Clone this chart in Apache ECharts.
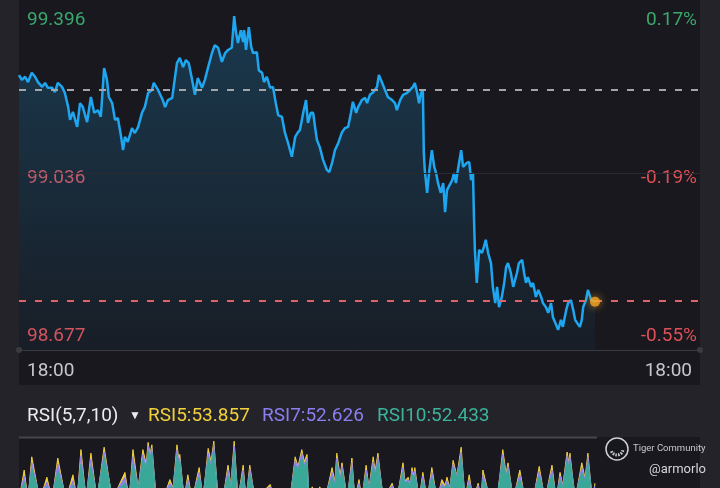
<!DOCTYPE html>
<html><head><meta charset="utf-8">
<script src="https://cdn.jsdelivr.net/npm/echarts@6/dist/echarts.min.js"></script>
<style>html,body{margin:0;padding:0;background:#222228;}#c{width:720px;height:488px;}</style>
</head><body><div id="c"></div>
<script>
// ---- data ----
const timeLabels = ['18:00', '18:00'];
const priceTicks = [98.677, 99.036, 99.396];
const prevClose = 99.227;
const lastPrice = 98.748;
// minutes after 18:00
const priceTimes = [0,6,13,19,27,34,40,49,55,61,70,76,82,91,97,104,108,114,123,129,135,144,152,159,167,173,180,186,190,197,203,209,216,220,224,230,239,245,252,260,266,273,281,285,294,298,304,309,315,324,330,334,340,347,353,359,366,372,378,387,393,400,408,414,421,429,436,442,450,455,459,463,469,474,476,480,486,491,495,503,507,514,518,524,531,537,543,548,556,562,569,577,584,590,594,601,607,611,617,622,626,630,636,643,651,656,662,668,675,683,689,696,702,706,713,717,725,732,736,742,749,757,761,768,774,780,789,795,799,806,812,820,827,833,837,842,846,850,854,856,858,863,867,873,878,882,886,892,897,901,905,909,916,920,924,928,935,939,943,947,952,956,960,962,964,968,973,979,983,987,992,998,1002,1007,1011,1015,1021,1026,1030,1034,1040,1045,1053,1057,1064,1068,1072,1076,1083,1087,1093,1098,1104,1108,1114,1119,1125,1129,1136,1140,1146,1150,1157,1161,1167,1172,1176,1180,1186,1190,1193,1199,1203,1210,1218];
const prices = [99.264,99.253,99.260,99.248,99.269,99.260,99.248,99.237,99.246,99.235,99.235,99.225,99.246,99.237,99.223,99.191,99.162,99.180,99.146,99.200,99.191,99.157,99.214,99.178,99.184,99.169,99.280,99.253,99.214,99.200,99.162,99.166,99.123,99.093,99.123,99.112,99.143,99.132,99.146,99.178,99.191,99.223,99.230,99.246,99.230,99.230,99.207,99.191,99.207,99.212,99.260,99.291,99.303,99.282,99.298,99.291,99.253,99.219,99.257,99.235,99.253,99.282,99.314,99.332,99.326,99.294,99.314,99.321,99.326,99.398,99.360,99.337,99.366,99.339,99.366,99.321,99.373,99.328,99.314,99.316,99.275,99.269,99.248,99.260,99.235,99.237,99.200,99.173,99.169,99.134,99.109,99.078,99.123,99.134,99.139,99.178,99.207,99.155,99.178,99.178,99.146,99.116,99.100,99.071,99.048,99.043,99.064,99.093,99.109,99.134,99.143,99.146,99.178,99.203,99.178,99.191,99.207,99.212,99.200,99.219,99.225,99.237,99.264,99.246,99.230,99.214,99.207,99.200,99.184,99.207,99.219,99.223,99.230,99.237,99.246,99.223,99.200,99.223,99.230,99.087,99.048,98.996,99.041,99.093,99.055,99.041,99.018,98.996,99.018,98.952,99.002,98.998,99.025,99.041,99.018,99.048,99.093,99.055,99.059,99.064,99.066,99.025,99.041,98.941,98.866,98.791,98.866,98.859,98.873,98.889,98.859,98.836,98.782,98.745,98.782,98.736,98.759,98.791,98.827,98.836,98.814,98.782,98.814,98.836,98.843,98.814,98.791,98.804,98.782,98.791,98.759,98.775,98.759,98.745,98.736,98.723,98.745,98.713,98.695,98.684,98.707,98.691,98.729,98.745,98.752,98.729,98.707,98.700,98.691,98.707,98.736,98.752,98.775,98.752,98.748];

const rsiTimes = [0,11,19,27,44,59,70,82,99,114,123,131,142,152,165,180,197,224,233,241,252,262,269,273,277,281,290,304,319,326,334,338,340,349,357,366,381,389,400,406,412,421,431,442,448,455,463,474,480,488,499,531,541,573,584,590,598,603,609,613,620,628,636,647,662,668,672,679,683,694,704,710,719,725,734,740,749,753,759,770,789,799,812,816,823,827,831,835,837,846,854,863,873,884,894,901,905,911,918,926,935,943,952,960,971,977,981,996,1011,1023,1030,1034,1045,1059,1070,1087,1100,1112,1127,1136,1144,1150,1159,1163,1165,1176,1190,1197,1203,1212,1218];
const rsi5 = [50,75,50,86,50,69,50,85,50,71,50,92,50,89,50,94,50,73,50,92,60,92,80,98,88,96,50,50,67,60,96,84,88,50,71,50,77,50,93,82,99,50,50,79,62,99,50,79,50,79,50,63,50,50,86,78,92,82,88,50,61,50,61,50,77,65,89,70,81,50,85,50,67,50,79,60,86,74,89,50,64,50,81,66,69,62,77,70,77,50,73,50,77,50,67,62,69,60,83,70,94,50,71,50,64,50,75,50,50,92,72,81,50,75,50,50,78,50,79,50,73,62,90,80,89,50,81,68,89,50,64];
const rsi7 = [52,70,52,81,52,65,52,80,52,66,52,87,52,84,52,90,52,69,52,86,60,88,78,95,88,93,52,52,64,60,92,83,85,52,67,52,73,52,89,80,96,52,52,75,62,95,52,75,52,76,52,61,52,52,83,77,89,80,85,52,59,52,59,52,73,64,85,68,78,52,81,52,64,52,75,60,82,72,86,52,62,52,77,65,67,62,74,69,74,52,70,52,73,52,64,61,66,60,80,70,90,52,67,52,62,52,71,52,52,88,71,78,52,71,52,52,74,52,75,52,70,62,87,79,86,52,77,67,86,52,62];
const rsi10 = [54,65,54,76,54,61,54,74,54,62,54,80,54,78,54,86,54,64,54,80,60,84,76,91,86,90,54,54,61,60,88,80,82,54,63,54,69,54,85,78,92,54,54,70,62,90,54,71,54,72,54,59,54,54,79,75,85,78,82,54,57,54,57,54,69,62,81,66,74,54,76,54,61,54,71,60,78,70,82,54,60,54,73,64,65,61,71,68,71,54,66,54,69,54,61,60,63,60,77,69,86,54,63,54,60,54,67,54,54,84,70,75,54,67,54,54,70,54,71,54,66,61,83,77,82,54,73,66,82,54,60];

const rsiTitle = 'RSI(5,7,10)';
const rsiValues = ['53.857', '52.626', '52.433'];

// ---- styles ----
const GREEN = '#3aa76c', RED = '#de5058', FONT = 'Roboto';
const panel = '#18181e';

const chart = echarts.init(document.getElementById('c'), null, {renderer: 'canvas'});
const priceData = priceTimes.map((t, i) => [t, prices[i]]);
const last = priceData[priceData.length - 1];
const yMin = 98.6383, yMax = 99.4347;

const priceRich = {
  g: {color: GREEN, fontSize: 19, fontFamily: FONT, padding: [6, 0, 0, 0]},
  r: {color: RED, fontSize: 19, fontFamily: FONT, padding: [6, 0, 0, 0]}
};

chart.setOption({
  backgroundColor: '#232329',
  animation: false,
  graphic: [
    {type: 'rect', z: -10, shape: {x: 19, y: 0, width: 681, height: 385}, style: {fill: panel}},
    {type: 'rect', z: -10, shape: {x: 19, y: 437, width: 681, height: 51}, style: {fill: panel}},
    {type: 'line', z: 50, shape: {x1: 19, y1: 437.5, x2: 597, y2: 437.5}, style: {stroke: '#45454c', lineWidth: 2}},
    {type: 'text', z: 50, style: {x: 27, y: 416, text: rsiTitle, fill: '#ececf0', font: '19px ' + FONT, verticalAlign: 'middle'}},
    {type: 'text', z: 50, style: {x: 129, y: 416, text: '▼', fill: '#ececf0', font: '12px ' + FONT, verticalAlign: 'middle'}},
    {type: 'text', z: 50, style: {x: 148, y: 416, text: 'RSI5:' + rsiValues[0], fill: '#f2d13a', font: '19px ' + FONT, verticalAlign: 'middle'}},
    {type: 'text', z: 50, style: {x: 262, y: 416, text: 'RSI7:' + rsiValues[1], fill: '#8c7ef0', font: '19px ' + FONT, verticalAlign: 'middle'}},
    {type: 'text', z: 50, style: {x: 377, y: 416, text: 'RSI10:' + rsiValues[2], fill: '#3cb39b', font: '19px ' + FONT, verticalAlign: 'middle'}},
    {type: 'circle', z: 50, shape: {cx: 617, cy: 449, r: 11}, style: {fill: 'rgba(24,24,30,0.6)', stroke: '#cfcfd3', lineWidth: 1.5}},
    {type: 'arc', z: 51, shape: {cx: 617, cy: 449, r: 6, startAngle: 0.2, endAngle: 2.9}, style: {fill: 'none', stroke: '#cfcfd3', lineWidth: 3, lineDash: [1.5, 1.2]}},
    {type: 'text', z: 50, style: {x: 633, y: 449, text: 'Tiger Community', fill: '#c9c9cd', font: '9.5px ' + FONT, verticalAlign: 'middle'}},
    {type: 'text', z: 50, style: {x: 706, y: 470, text: '@armorlo', fill: '#d4d4d8', font: '13px ' + FONT, verticalAlign: 'middle', align: 'right'}}
  ],
  grid: [
    {left: 19, right: 20, top: 0, height: 350},
    {left: 19, right: 20, top: 440, height: 48}
  ],
  xAxis: [
    {gridIndex: 0, type: 'value', min: 0, max: 1440,
     axisLine: {show: true, lineStyle: {color: '#3a3a41', width: 1}, symbol: ['circle', 'circle'], symbolSize: [6, 6]},
     axisTick: {show: false}, splitLine: {show: false},
     axisLabel: {customValues: [0, 1440], formatter: v => (v === 0 ? timeLabels[0] : timeLabels[1]),
       color: '#c6c6cb', fontSize: 19, fontFamily: FONT, margin: 12,
       alignMinLabel: 'left', alignMaxLabel: 'right', padding: [0, 8, 0, 8]}},
    {gridIndex: 1, type: 'value', min: 0, max: 1440, show: false}
  ],
  yAxis: [
    {gridIndex: 0, type: 'value', min: yMin, max: yMax, position: 'left',
     axisLine: {show: false}, axisTick: {show: false}, splitLine: {show: false},
     axisLabel: {inside: true, customValues: priceTicks, margin: 8, rich: priceRich,
       formatter: v => '{' + (v > prevClose ? 'g' : 'r') + '|' + v.toFixed(3) + '}'}},
    {gridIndex: 0, type: 'value', min: yMin, max: yMax, position: 'right',
     axisLine: {show: false}, axisTick: {show: false}, splitLine: {show: false},
     axisLabel: {inside: true, customValues: priceTicks, margin: 3, rich: priceRich,
       formatter: v => '{' + (v > prevClose ? 'g' : 'r') + '|' + ((v / prevClose - 1) * 100).toFixed(2) + '%}'}},
    {gridIndex: 1, type: 'value', min: 60, max: 100, show: false}
  ],
  series: [
    {type: 'line', xAxisIndex: 0, yAxisIndex: 0, data: priceData, showSymbol: false, z: 3,
     lineStyle: {color: '#1ea6f0', width: 2.5},
     areaStyle: {origin: 'start', color: new echarts.graphic.LinearGradient(0, 0, 0, 1, [
       {offset: 0, color: 'rgba(30,140,200,0.40)'}, {offset: 1, color: 'rgba(30,140,200,0.07)'}])},
     markLine: {silent: true, symbol: ['none', 'none'], label: {show: false}, animation: false,
       data: [
         {yAxis: 99.036, lineStyle: {color: '#2a2a31', width: 1, type: 'solid'}},
         {yAxis: prevClose, lineStyle: {color: '#a4a4ab', width: 2, type: [7, 9]}},
         {yAxis: lastPrice, lineStyle: {color: '#e0636b', width: 2, type: [7, 9]}}
       ]}},
    {type: 'scatter', xAxisIndex: 0, yAxisIndex: 0, data: [last], symbolSize: 10, z: 5,
     itemStyle: {color: '#f5a623', shadowBlur: 8, shadowColor: 'rgba(245,166,35,0.9)'}},
    {type: 'line', xAxisIndex: 1, yAxisIndex: 2, data: rsiTimes.map((t, i) => [t, rsi5[i]]), showSymbol: false,
     lineStyle: {color: '#f2d13a', width: 1}, areaStyle: {origin: 'start', color: '#f2d13a', opacity: 1}},
    {type: 'line', xAxisIndex: 1, yAxisIndex: 2, data: rsiTimes.map((t, i) => [t, rsi7[i]]), showSymbol: false,
     lineStyle: {color: '#8c7ef0', width: 1}, areaStyle: {origin: 'start', color: '#8c7ef0', opacity: 1}},
    {type: 'line', xAxisIndex: 1, yAxisIndex: 2, data: rsiTimes.map((t, i) => [t, rsi10[i]]), showSymbol: false,
     lineStyle: {color: '#3aa898', width: 1}, areaStyle: {origin: 'start', color: '#3aa898', opacity: 1}}
  ]
});
</script></body></html>
